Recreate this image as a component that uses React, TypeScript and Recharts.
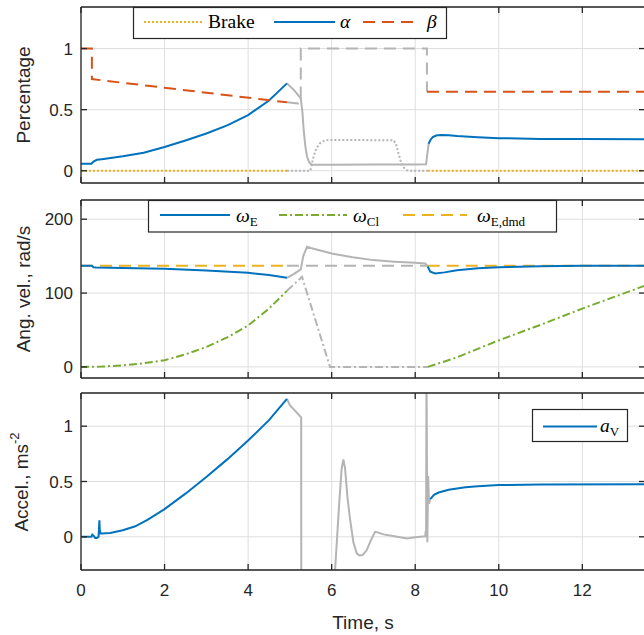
import React from 'react';
import { LineChart, Line, XAxis, YAxis, CartesianGrid } from 'recharts';

// ---------- shared axis ----------
const X_TICKS = [0, 2, 4, 6, 8, 10, 12];
const X_DOMAIN: [number, number] = [0, 13.5];

// ---------- panel 1: Percentage ----------
const P1_TICKS = [0, 0.5, 1];
const P1_DOMAIN: [number, number] = [-0.1, 1.34];

const brakeT = [0, 4.93, 5.49, 5.52, 5.57, 5.63, 5.72, 5.82, 5.92, 7.48, 7.54, 7.6, 7.66, 7.73, 7.8, 7.85, 8.3, 13.5];
const brakeV = [0, 0, 0, 0.05, 0.12, 0.18, 0.225, 0.245, 0.252, 0.25, 0.22, 0.14, 0.07, 0.025, 0.005, 0, 0, 0];

const alphaT = [0, 0.25, 0.3, 0.38, 0.5, 1, 1.5, 2, 2.5, 3, 3.5, 4, 4.5, 4.93, 5.1, 5.26, 5.3, 5.33, 5.37, 5.41, 5.46, 5.52, 6, 7, 8, 8.26, 8.32, 8.36, 8.42, 8.5, 8.6, 8.8, 9, 9.5, 10, 11, 12, 13.5];
const alphaV = [0.057, 0.057, 0.075, 0.09, 0.095, 0.118, 0.148, 0.194, 0.248, 0.305, 0.372, 0.456, 0.575, 0.715, 0.66, 0.592, 0.48, 0.334, 0.2, 0.117, 0.07, 0.05, 0.05, 0.051, 0.052, 0.053, 0.22, 0.25, 0.275, 0.288, 0.293, 0.29, 0.284, 0.274, 0.267, 0.261, 0.259, 0.258];

const betaT = [0, 0.26, 0.261, 4.93, 5.2, 5.26, 5.261, 8.28, 8.281, 13.5];
const betaV = [1, 1, 0.75, 0.56, 0.55, 0.55, 1.0, 1.0, 0.646, 0.646];

// ---------- panel 2: angular velocity ----------
const P2_TICKS = [0, 100, 200];
const P2_DOMAIN: [number, number] = [-15, 226];

const wET = [0, 0.26, 0.3, 0.36, 1, 2, 3, 4, 4.5, 4.93, 5.1, 5.26, 5.32, 5.41, 5.5, 6, 6.5, 7, 7.5, 8, 8.24, 8.3, 8.36, 8.48, 8.7, 9, 9.5, 10, 11, 12, 13.5];
const wEV = [137, 137, 135, 134.5, 134, 132.8, 130.5, 127.4, 124.5, 120.6, 126, 132, 150, 162.6, 161, 153.6, 148.5, 144.6, 142.5, 141, 140, 136, 129, 126.5, 128, 131, 133.5, 135, 136.3, 137, 137];

const wClT = [0, 0.5, 1, 1.5, 2, 2.5, 3, 3.5, 4, 4.5, 4.93, 5.29, 5.96, 8.3, 9, 10, 11, 12, 13.5];
const wClV = [0, 0.5, 2, 5, 9, 17, 27, 40, 56, 79, 103, 122, 0, 0, 13, 36, 57, 79, 110];

const wDmdT = [0, 4.93, 8.3, 13.5];
const wDmdV = [137, 137, 137, 137];

// ---------- panel 3: acceleration ----------
const P3_TICKS = [0, 0.5, 1];
const P3_DOMAIN: [number, number] = [-0.3, 1.3];

const aVT = [0, 0.25, 0.27, 0.3, 0.34, 0.38, 0.42, 0.44, 0.45, 0.47, 0.5, 0.7, 1, 1.3, 1.6, 2, 2.5, 3, 3.5, 4, 4.5, 4.93, 5.0, 5.27, 5.275, 5.9, 6.0, 6.08, 6.18, 6.24, 6.28, 6.32, 6.38, 6.44, 6.52, 6.6, 6.66, 6.74, 6.84, 6.94, 7.04, 7.1, 7.24, 7.5, 7.8, 8.0, 8.24, 8.25, 8.26, 8.27, 8.29, 8.31, 8.33, 8.36, 8.45, 8.56, 8.8, 9.2, 9.5, 10, 11, 13.5];
const aVV = [0, 0, 0.02, 0.01, -0.01, -0.01, 0, 0.15, 0.06, 0.03, 0.03, 0.035, 0.06, 0.095, 0.155, 0.25, 0.39, 0.54, 0.7, 0.87, 1.055, 1.246, 1.19, 1.08, -2, -2, -0.75, -0.31, 0.3, 0.62, 0.7, 0.62, 0.35, 0.16, -0.05, -0.15, -0.168, -0.165, -0.12, -0.03, 0.045, 0.04, 0.022, 0.005, -0.015, -0.005, 0.005, 0.05, 0.0, 1.5, -0.05, 0.55, 0.3, 0.34, 0.38, 0.4, 0.425, 0.447, 0.458, 0.468, 0.473, 0.475];

// ---------- styling ----------
const AX = '#262626';
const GRAY = '#B4B4B4';
const BLUE = '#0072BD';
const RED = '#D95319';
const YEL = '#EDB120';
const GRN = '#77AC30';
const SANS = '"Liberation Sans", Arial, Helvetica, sans-serif';
const SERIF = '"Liberation Serif", "Times New Roman", serif';

type Pt = { t: number; v: number };
function split(t: number[], v: number[], a: number, b: number) {
  const all: Pt[] = t.map((x, i) => ({ t: x, v: v[i] }));
  return {
    pre: all.filter((p) => p.t <= a),
    gray: all.filter((p) => p.t >= a && p.t <= b),
    post: all.filter((p) => p.t >= b),
  };
}

type Series = { t: number[]; v: number[]; a: number; b: number; color: string; dash?: string };

function Panel(props: {
  top: number;
  height: number;
  bottomH: number;
  domain: [number, number];
  ticks: number[];
  series: Series[];
  xLabels: boolean;
}) {
  const { top, height, bottomH, domain, ticks, series, xLabels } = props;
  const blank = () => '';
  const tickStyle = { fill: AX, fontSize: 17, fontFamily: SANS };
  const lineStyle = { stroke: AX, strokeWidth: 1.3 };
  const lines: React.ReactNode[] = [];
  series.forEach((s, i) => {
    const seg = split(s.t, s.v, s.a, s.b);
    const common = {
      type: 'linear' as const,
      dataKey: 'v',
      dot: false,
      activeDot: false,
      isAnimationActive: false,
      strokeWidth: 2,
      strokeDasharray: s.dash,
      xAxisId: 0,
      yAxisId: 0,
    };
    lines.push(<Line key={`g${i}`} {...common} data={seg.gray} stroke={GRAY} />);
    lines.push(<Line key={`a${i}`} {...common} data={seg.pre} stroke={s.color} />);
    lines.push(<Line key={`b${i}`} {...common} data={seg.post} stroke={s.color} />);
  });
  return (
    <div style={{ position: 'absolute', left: 0, top }}>
      <LineChart width={646} height={height} margin={{ top: 6, right: 0, bottom: 0, left: 0 }}>
        <CartesianGrid stroke="#DEDEDE" strokeWidth={1} />
        <XAxis
          xAxisId={0}
          type="number"
          dataKey="t"
          domain={X_DOMAIN}
          ticks={X_TICKS}
          allowDataOverflow
          interval={0}
          orientation="bottom"
          height={bottomH}
          tickSize={-6}
          tickMargin={20}
          axisLine={lineStyle}
          tickLine={lineStyle}
          tick={tickStyle}
          tickFormatter={xLabels ? undefined : blank}
        />
        <XAxis
          xAxisId="top"
          type="number"
          dataKey="t"
          domain={X_DOMAIN}
          ticks={X_TICKS}
          allowDataOverflow
          interval={0}
          orientation="top"
          height={1}
          tickSize={-6}
          axisLine={lineStyle}
          tickLine={lineStyle}
          tick={tickStyle}
          tickFormatter={blank}
        />
        <YAxis
          yAxisId={0}
          type="number"
          domain={domain}
          ticks={ticks}
          allowDataOverflow
          interval={0}
          width={81}
          tickSize={-6}
          tickMargin={14}
          axisLine={lineStyle}
          tickLine={lineStyle}
          tick={tickStyle}
        />
        <YAxis
          yAxisId="right"
          orientation="right"
          type="number"
          domain={domain}
          ticks={ticks}
          allowDataOverflow
          interval={0}
          width={1}
          tickSize={-6}
          axisLine={lineStyle}
          tickLine={lineStyle}
          tick={tickStyle}
          tickFormatter={blank}
        />
        {lines}
      </LineChart>
    </div>
  );
}

function Overlay() {
  const lab = { fontFamily: SANS, fontSize: 19, fill: AX, textAnchor: 'middle' as const, dominantBaseline: 'central' as const };
  const leg = { fontFamily: SERIF, fontSize: 19.5, fill: '#000' };
  const sub = { fontSize: 13, fontStyle: 'normal' as const };
  return (
    <svg width={644} height={635} style={{ position: 'absolute', left: 0, top: 0 }}>
      {/* axis labels */}
      <text {...lab} transform="translate(23,95) rotate(-90)">Percentage</text>
      <text {...lab} transform="translate(23,289) rotate(-90)">Ang. vel., rad/s</text>
      <text {...lab} transform="translate(21,482) rotate(-90)">
        Accel., ms<tspan dy={-7} fontSize={13}>-2</tspan>
      </text>
      <text {...lab} x={363} y={622}>Time, s</text>

      {/* legend 1 */}
      <rect x={133.5} y={7.5} width={313} height={31} fill="#fff" stroke={AX} strokeWidth={1.2} />
      <line x1={144} x2={202} y1={22} y2={22} stroke={YEL} strokeWidth={2} strokeDasharray="2 2" />
      <text {...leg} x={208} y={27.5}>Brake</text>
      <line x1={274} x2={335} y1={22} y2={22} stroke={BLUE} strokeWidth={2} />
      <text {...leg} x={340} y={27.5} fontStyle="italic">α</text>
      <line x1={363} x2={413} y1={22} y2={22} stroke={RED} strokeWidth={2} strokeDasharray="12 7" />
      <text {...leg} x={427} y={27.5} fontStyle="italic">β</text>

      {/* legend 2 */}
      <rect x={148.5} y={200.5} width={408} height={31.5} fill="#fff" stroke={AX} strokeWidth={1.2} />
      <line x1={160} x2={230} y1={215} y2={215} stroke={BLUE} strokeWidth={2} />
      <text {...leg} x={236} y={221.5} fontStyle="italic">
        ω<tspan {...sub} dy={4}>E</tspan>
      </text>
      <line x1={279} x2={347} y1={215} y2={215} stroke={GRN} strokeWidth={2} strokeDasharray="8 3 2 3" />
      <text {...leg} x={353} y={221.5} fontStyle="italic">
        ω<tspan {...sub} dy={4}>Cl</tspan>
      </text>
      <line x1={403} x2={467} y1={215} y2={215} stroke={YEL} strokeWidth={2} strokeDasharray="12 7" />
      <text {...leg} x={477} y={221.5} fontStyle="italic">
        ω<tspan {...sub} dy={4}>E,dmd</tspan>
      </text>

      {/* legend 3 */}
      <rect x={532.5} y={409.5} width={95} height={32} fill="#fff" stroke={AX} strokeWidth={1.2} />
      <line x1={543} x2={597} y1={426.5} y2={426.5} stroke={BLUE} strokeWidth={2} />
      <text {...leg} x={600} y={432} fontStyle="italic">
        a<tspan {...sub} dy={4}>V</tspan>
      </text>
    </svg>
  );
}

export default function App() {
  const s1: Series[] = [
    { t: brakeT, v: brakeV, a: 4.93, b: 8.3, color: YEL, dash: '2 2' },
    { t: alphaT, v: alphaV, a: 4.93, b: 8.32, color: BLUE },
    { t: betaT, v: betaV, a: 4.93, b: 8.281, color: RED, dash: '12 7' },
  ];
  const s2: Series[] = [
    { t: wDmdT, v: wDmdV, a: 4.93, b: 8.3, color: YEL, dash: '12 7' },
    { t: wClT, v: wClV, a: 4.93, b: 8.3, color: GRN, dash: '8 3 2 3' },
    { t: wET, v: wEV, a: 4.93, b: 8.3, color: BLUE },
  ];
  const s3: Series[] = [{ t: aVT, v: aVV, a: 4.93, b: 8.36, color: BLUE }];
  return (
    <div style={{ position: 'absolute', left: 0, top: 0, width: 644, height: 635, overflow: 'hidden', background: '#fff' }}>
      <Panel top={0} height={184} bottomH={1} domain={P1_DOMAIN} ticks={P1_TICKS} series={s1} xLabels={false} />
      <Panel top={193} height={186} bottomH={1} domain={P2_DOMAIN} ticks={P2_TICKS} series={s2} xLabels={false} />
      <Panel top={386} height={249} bottomH={65} domain={P3_DOMAIN} ticks={P3_TICKS} series={s3} xLabels={true} />
      <Overlay />
    </div>
  );
}
